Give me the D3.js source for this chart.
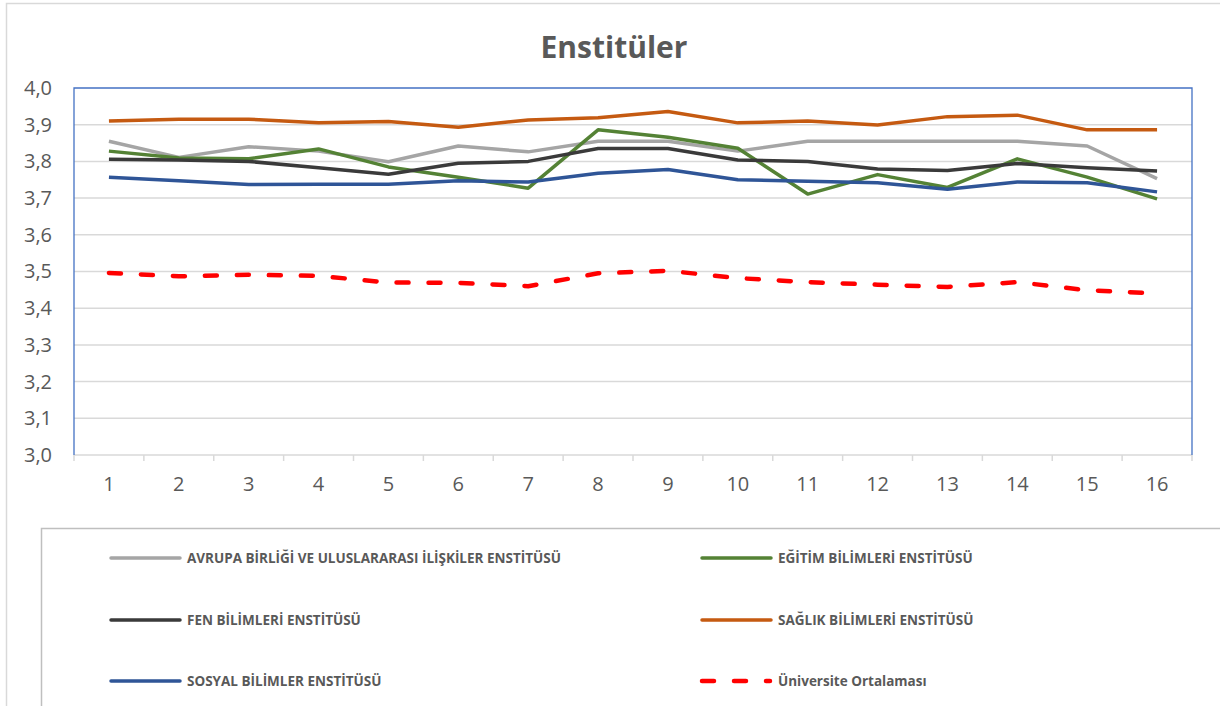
<!DOCTYPE html>
<html>
<head>
<meta charset="utf-8">
<script src="https://cdn.jsdelivr.net/npm/d3@7"></script>
<style>
  body { margin: 0; background: #fff; }
  svg { display: block; }
</style>
</head>
<body>
<svg id="chart"></svg>
<script>
// categories on the x axis
const periods = ["1","2","3","4","5","6","7","8","9","10","11","12","13","14","15","16"];
const yTicks = [3.0, 3.1, 3.2, 3.3, 3.4, 3.5, 3.6, 3.7, 3.8, 3.9, 4.0];

// series values
const avrupa = [3.855, 3.811, 3.840, 3.828, 3.799, 3.842, 3.826, 3.855, 3.855, 3.828, 3.855, 3.855, 3.855, 3.855, 3.842, 3.753];
const egitim = [3.828, 3.809, 3.807, 3.834, 3.785, 3.757, 3.727, 3.886, 3.866, 3.836, 3.711, 3.764, 3.729, 3.807, 3.757, 3.698];
const fen    = [3.806, 3.804, 3.800, 3.783, 3.765, 3.795, 3.800, 3.835, 3.835, 3.804, 3.800, 3.779, 3.775, 3.794, 3.783, 3.774];
const saglik = [3.910, 3.915, 3.915, 3.905, 3.909, 3.893, 3.913, 3.919, 3.936, 3.905, 3.910, 3.899, 3.922, 3.926, 3.886, 3.886];
const sosyal = [3.757, 3.747, 3.737, 3.738, 3.738, 3.747, 3.744, 3.768, 3.778, 3.750, 3.746, 3.742, 3.724, 3.744, 3.742, 3.717];
const ortalama = [3.496, 3.487, 3.491, 3.488, 3.470, 3.469, 3.460, 3.495, 3.502, 3.482, 3.471, 3.464, 3.458, 3.471, 3.449, 3.440];

const seriesNames = [
    "AVRUPA BİRLİĞİ VE ULUSLARARASI İLİŞKİLER ENSTİTÜSÜ",
    "EĞİTİM BİLİMLERİ ENSTİTÜSÜ",
    "FEN BİLİMLERİ ENSTİTÜSÜ",
    "SAĞLIK BİLİMLERİ ENSTİTÜSÜ",
    "SOSYAL BİLİMLER ENSTİTÜSÜ",
    "Üniversite Ortalaması"
];

const series = [
    { name: seriesNames[0], values: avrupa,   color: "#a5a5a5", dashed: false },
    { name: seriesNames[1], values: egitim,   color: "#548235", dashed: false },
    { name: seriesNames[2], values: fen,      color: "#3a3a3a", dashed: false },
    { name: seriesNames[3], values: saglik,   color: "#c55a11", dashed: false },
    { name: seriesNames[4], values: sosyal,   color: "#2f5597", dashed: false },
    { name: seriesNames[5], values: ortalama, color: "#ff0000", dashed: true }
];

const w = 1220;
const h = 706;
const margin = { top: 88, right: 28, bottom: 251, left: 74 };
const textColor = "#595959";
const gridColor = "#d9d9d9";

const svg = d3.select("#chart")
    .attr("width", w)
    .attr("height", h);

// outer chart frame (runs off the right and bottom of the picture)
svg.append("rect")
    .attr("x", 6.5).attr("y", 3.5)
    .attr("width", w + 20).attr("height", h + 20)
    .attr("fill", "none")
    .attr("stroke", gridColor)
    .attr("stroke-width", 1.5);

const xScale = d3.scaleBand()
    .domain(periods)
    .range([margin.left, w - margin.right]);

const yScale = d3.scaleLinear()
    .domain([3.0, 4.0])
    .range([h - margin.bottom, margin.top]);

// title
svg.append("text")
    .attr("x", 614)
    .attr("y", 58)
    .attr("text-anchor", "middle")
    .style("font-family", "'Open Sans', sans-serif")
    .style("font-weight", "bold")
    .style("font-size", "30px")
    .style("fill", textColor)
    .text("Enstitüler");

// horizontal gridlines
svg.append("g")
    .selectAll("line")
    .data(yTicks.filter(t => t > 3.0 && t < 4.0))
    .join("line")
        .attr("x1", margin.left)
        .attr("x2", w - margin.right)
        .attr("y1", d => yScale(d))
        .attr("y2", d => yScale(d))
        .attr("stroke", gridColor)
        .attr("stroke-width", 1.5);

// y axis labels
let yAxis = g => g
    .attr("transform", `translate(${margin.left - 22},0)`)
    .call(d3.axisLeft(yScale).tickValues(yTicks).tickSize(0).tickPadding(0)
        .tickFormat(d => d3.format(".1f")(d).replace(".", ",")))
    .call(g => g.selectAll(".domain").remove())
    .call(g => g.selectAll("text")
        .style("font-family", "'Open Sans', sans-serif")
        .style("font-size", "20px")
        .style("fill", textColor));

svg.append("g").call(yAxis);

// x axis: baseline, ticks on band edges, labels in band centers
const bottomY = yScale(3.0);
svg.append("line")
    .attr("x1", margin.left).attr("x2", w - margin.right)
    .attr("y1", bottomY).attr("y2", bottomY)
    .attr("stroke", gridColor)
    .attr("stroke-width", 1.5);

const edges = periods.map(p => xScale(p)).concat([xScale(periods[periods.length - 1]) + xScale.bandwidth()]);
svg.append("g")
    .selectAll("line")
    .data(edges)
    .join("line")
        .attr("x1", d => d).attr("x2", d => d)
        .attr("y1", bottomY).attr("y2", bottomY + 6)
        .attr("stroke", gridColor)
        .attr("stroke-width", 1.5);

svg.append("g")
    .selectAll("text")
    .data(periods)
    .join("text")
        .attr("x", d => xScale(d) + xScale.bandwidth() / 2)
        .attr("y", bottomY + 36)
        .attr("text-anchor", "middle")
        .style("font-family", "'Open Sans', sans-serif")
        .style("font-size", "20px")
        .style("fill", textColor)
        .text(d => d);

// plot area border (blue on left, top, right)
const plotTop = yScale(4.0);
svg.append("path")
    .attr("d", `M${margin.left},${bottomY}V${plotTop}H${w - margin.right}V${bottomY}`)
    .attr("fill", "none")
    .attr("stroke", "#4472c4")
    .attr("stroke-width", 1.3);

// lines
const line = d3.line()
    .x((d, i) => xScale(periods[i]) + xScale.bandwidth() / 2)
    .y(d => yScale(d));

svg.append("g")
    .selectAll("path")
    .data(series)
    .join("path")
        .attr("d", d => line(d.values))
        .attr("fill", "none")
        .attr("stroke", d => d.color)
        .attr("stroke-width", d => d.dashed ? 4.5 : 3.5)
        .attr("stroke-linejoin", "round")
        .attr("stroke-linecap", d => d.dashed ? "round" : "butt")
        .attr("stroke-dasharray", d => d.dashed ? "12 20" : null);

// legend box (runs off right and bottom)
svg.append("rect")
    .attr("x", 41.5).attr("y", 528.5)
    .attr("width", w).attr("height", 300)
    .attr("fill", "none")
    .attr("stroke", "#bfbfbf")
    .attr("stroke-width", 1.5);

const legendCols = [111, 702];
const legendRows = [558, 620, 681];

const legend = svg.append("g")
    .selectAll("g")
    .data(series)
    .join("g")
        .attr("transform", (d, i) => `translate(${legendCols[i % 2]},${legendRows[Math.floor(i / 2)]})`);

legend.append("line")
    .attr("x1", 0).attr("x2", d => d.dashed ? 68 : 69)
    .attr("y1", 0).attr("y2", 0)
    .attr("stroke", d => d.color)
    .attr("stroke-width", d => d.dashed ? 4.5 : 3.5)
    .attr("stroke-linecap", "round")
    .attr("stroke-dasharray", d => d.dashed ? "12 20" : null);

legend.append("text")
    .attr("x", 76)
    .attr("y", 0)
    .attr("dy", "0.35em")
    .style("font-family", "'Open Sans', sans-serif")
    .style("font-weight", "bold")
    .style("font-size", "13.5px")
    .style("fill", textColor)
    .text(d => d.name);
</script>
</body>
</html>
